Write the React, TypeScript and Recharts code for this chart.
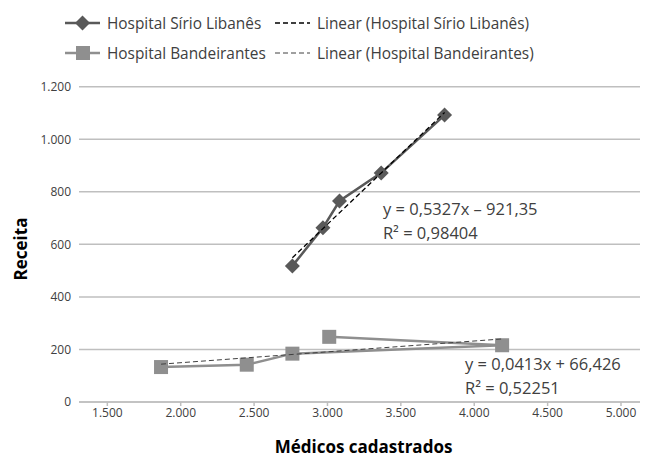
import React from 'react';
import { ScatterChart, Scatter, XAxis, YAxis, CartesianGrid, ReferenceDot } from 'recharts';

const sirioX = [2761, 2969, 3082, 3366, 3798];
const sirioY = [518, 663, 765, 872, 1092];
const bandX = [1866, 2450, 2761, 4190, 3012];
const bandY = [133, 142, 184, 216, 248];
const sirioTrendX = [2761, 3798];
const sirioTrendY = [549, 1102];
const bandTrendX = [1866, 4190];
const bandTrendY = [144, 240];
const xTicks = [1500, 2000, 2500, 3000, 3500, 4000, 4500, 5000];
const yTicks = [0, 200, 400, 600, 800, 1000, 1200];
const seriesNames = ['Hospital Sírio Libanês', 'Hospital Bandeirantes'];
const trendNames = ['Linear (Hospital Sírio Libanês)', 'Linear (Hospital Bandeirantes)'];
const eqSirio = ['y = 0,5327x – 921,35', 'R² = 0,98404'];
const eqBand = ['y = 0,0413x + 66,426', 'R² = 0,52251'];

const zip = (xs: number[], ys: number[]) => xs.map((x, i) => ({ x, y: ys[i] }));
const sirioData = zip(sirioX, sirioY);
const bandData = zip(bandX, bandY);
const sirioTrend = zip(sirioTrendX, sirioTrendY);
const bandTrend = zip(bandTrendX, bandTrendY);

const FONT = '"Open Sans", Lato, sans-serif';
const DARK = '#595959';
const LIGHT = '#8f8f8f';
const GRID = '#bfbfbf';
const TEXT = '#404040';

const fmt = (v: number) => String(v).replace(/\B(?=(\d{3})+(?!\d))/g, '.');

const Diamond = (p: any) => {
  const { cx, cy } = p;
  const r = 7.5;
  return <polygon points={`${cx},${cy - r} ${cx + r},${cy} ${cx},${cy + r} ${cx - r},${cy}`} fill={DARK} />;
};
const Square = (p: any) => {
  const { cx, cy } = p;
  const s = 7;
  return <rect x={cx - s} y={cy - s} width={2 * s} height={2 * s} fill={LIGHT} />;
};
const NoShape = () => <g />;

const eqShape = (lines: string[]) => (p: any) => (
  <text x={p.cx} y={p.cy} fill={TEXT} fontFamily={FONT} fontSize={16.5} dominantBaseline="central">
    <tspan x={p.cx} dy={0}>{lines[0]}</tspan>
    <tspan x={p.cx} dy={24}>{lines[1]}</tspan>
  </text>
);

const YLabel = () => {
  const cy = 241;
  const cx = 12;
  return (
    <text x={cx} y={cy} transform={`rotate(-90 ${cx} ${cy})`} textAnchor="middle" dominantBaseline="central" fontFamily={FONT} fontWeight="bold" fontSize={17} fill="#000">
      Receita
    </text>
  );
};
const XLabel = (p: any) => {
  const vb = p.viewBox;
  const cx = vb.x + vb.width / 2;
  return (
    <text x={cx} y={438} textAnchor="middle" dominantBaseline="central" fontFamily={FONT} fontWeight="bold" fontSize={17} fill="#000">
      Médicos cadastrados
    </text>
  );
};

const Legend = () => (
  <svg width={640} height={70} style={{ position: 'absolute', left: 0, top: 0 }}>
    <g fontFamily={FONT} fontSize={15.4} fill={TEXT}>
      <line x1={57} x2={92} y1={15} y2={15} stroke={DARK} strokeWidth={2.5} />
      <polygon points="74.5,7.5 82,15 74.5,22.5 67,15" fill={DARK} />
      <text x={99} y={15} dominantBaseline="central">{seriesNames[0]}</text>
      <line x1={267} x2={302} y1={15} y2={15} stroke="#000" strokeWidth={1.3} strokeDasharray="5 3" />
      <text x={309} y={15} dominantBaseline="central">{trendNames[0]}</text>
      <line x1={57} x2={92} y1={45} y2={45} stroke={LIGHT} strokeWidth={2.5} />
      <rect x={68} y={38} width={14} height={14} fill={LIGHT} />
      <text x={99} y={45} dominantBaseline="central">{seriesNames[1]}</text>
      <line x1={267} x2={302} y1={45} y2={45} stroke={TEXT} strokeWidth={1} strokeDasharray="5 3" />
      <text x={309} y={45} dominantBaseline="central">{trendNames[1]}</text>
    </g>
  </svg>
);

export default function App() {
  return (
    <div style={{ position: 'relative', width: 640, height: 450 }}>
      <ScatterChart width={640} height={450} margin={{ top: 78.7, right: 0, bottom: 0, left: 0 }}>
        <CartesianGrid vertical={false} stroke={GRID} strokeWidth={1.5} />
        <XAxis
          type="number"
          dataKey="x"
          domain={[1307, 5184]}
          ticks={xTicks}
          tickFormatter={fmt}
          allowDataOverflow
          height={56}
          stroke={GRID}
          strokeWidth={1.5}
          tickSize={4}
          tick={{ fill: TEXT, fontSize: 12, fontFamily: FONT }}
          label={<XLabel />}
        />
        <YAxis
          type="number"
          dataKey="y"
          domain={[0, 1200]}
          ticks={yTicks}
          tickFormatter={fmt}
          width={71}
          axisLine={false}
          tickLine={false}
          tick={{ fill: TEXT, fontSize: 12, fontFamily: FONT }}
          label={<YLabel />}
        />
        <Scatter data={bandData} shape={Square} line={{ stroke: LIGHT, strokeWidth: 2.5 }} lineType="joint" isAnimationActive={false} />
        <Scatter data={sirioData} shape={Diamond} line={{ stroke: DARK, strokeWidth: 2.5 }} lineType="joint" isAnimationActive={false} />
        <Scatter data={bandTrend} shape={NoShape} line={{ stroke: TEXT, strokeWidth: 1, strokeDasharray: '5 3' }} lineType="joint" isAnimationActive={false} />
        <Scatter data={sirioTrend} shape={NoShape} line={{ stroke: '#000', strokeWidth: 1.3, strokeDasharray: '5 3' }} lineType="joint" isAnimationActive={false} />
        <ReferenceDot x={3378} y={737} r={0} shape={eqShape(eqSirio)} />
        <ReferenceDot x={3937} y={149} r={0} shape={eqShape(eqBand)} />
      </ScatterChart>
      <Legend />
    </div>
  );
}
